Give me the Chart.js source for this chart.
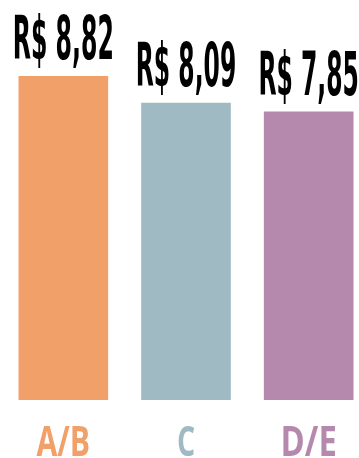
<!DOCTYPE html>
<html>
<head>
<meta charset="utf-8">
<script src="https://cdn.jsdelivr.net/npm/chart.js@4"></script>
<style>
  html, body { margin: 0; padding: 0; background: #fff; overflow: hidden; }
  #wrap { width: 370px; height: 458px; }
</style>
</head>
<body>
<div id="wrap"><canvas id="precoChart"></canvas></div>
<script>
const classes = ["A/B", "C", "D/E"];
const precos = [8.82, 8.09, 7.85];
const cores = ["#F2A06A", "#A0BAC4", "#B589AD"];

function formatReal(v) {
  return "R$ " + v.toFixed(2).replace(".", ",");
}

// draws text squeezed into a given cap height and width (condensed look)
function drawCondensed(ctx, text, cx, baseline, capH, width, font, color) {
  ctx.save();
  ctx.font = font;
  const m = ctx.measureText(text);
  const cap = ctx.measureText("H").actualBoundingBoxAscent;
  const sx = width / (m.actualBoundingBoxLeft + m.actualBoundingBoxRight);
  const sy = capH / cap;
  ctx.translate(cx, baseline);
  ctx.scale(sx, sy);
  ctx.fillStyle = color;
  ctx.textAlign = "center";
  ctx.textBaseline = "alphabetic";
  ctx.fillText(text, 0, 0);
  ctx.restore();
}

const labelsPlugin = {
  id: "rotulos",
  afterDatasetsDraw(chart) {
    const ctx = chart.ctx;
    const meta = chart.getDatasetMeta(0);
    meta.data.forEach((bar, i) => {
      const txt = formatReal(precos[i]);
      drawCondensed(ctx, txt, bar.x, bar.y - 17, 44, 97,
        "bold 100px 'DejaVu Sans Condensed', 'DejaVu Sans'", "#000");
      const cat = classes[i];
      const w = cat.length === 1 ? 16 : 52;
      drawCondensed(ctx, cat, bar.x, 456, 29, w,
        "bold 100px 'Open Sans'", cores[i]);
    });
  }
};

new Chart(document.getElementById("precoChart"), {
  type: "bar",
  data: {
    labels: classes,
    datasets: [{
      data: precos,
      backgroundColor: cores,
      borderWidth: 0,
      barThickness: 89
    }]
  },
  options: {
    responsive: true,
    maintainAspectRatio: false,
    animation: false,
    layout: { padding: { left: 2, right: 0, top: 0, bottom: 58 } },
    plugins: { legend: { display: false }, tooltip: { enabled: false } },
    scales: {
      x: { display: false },
      y: { display: false, min: 0, max: 10.9 }
    }
  },
  plugins: [labelsPlugin]
});
</script>
</body>
</html>
